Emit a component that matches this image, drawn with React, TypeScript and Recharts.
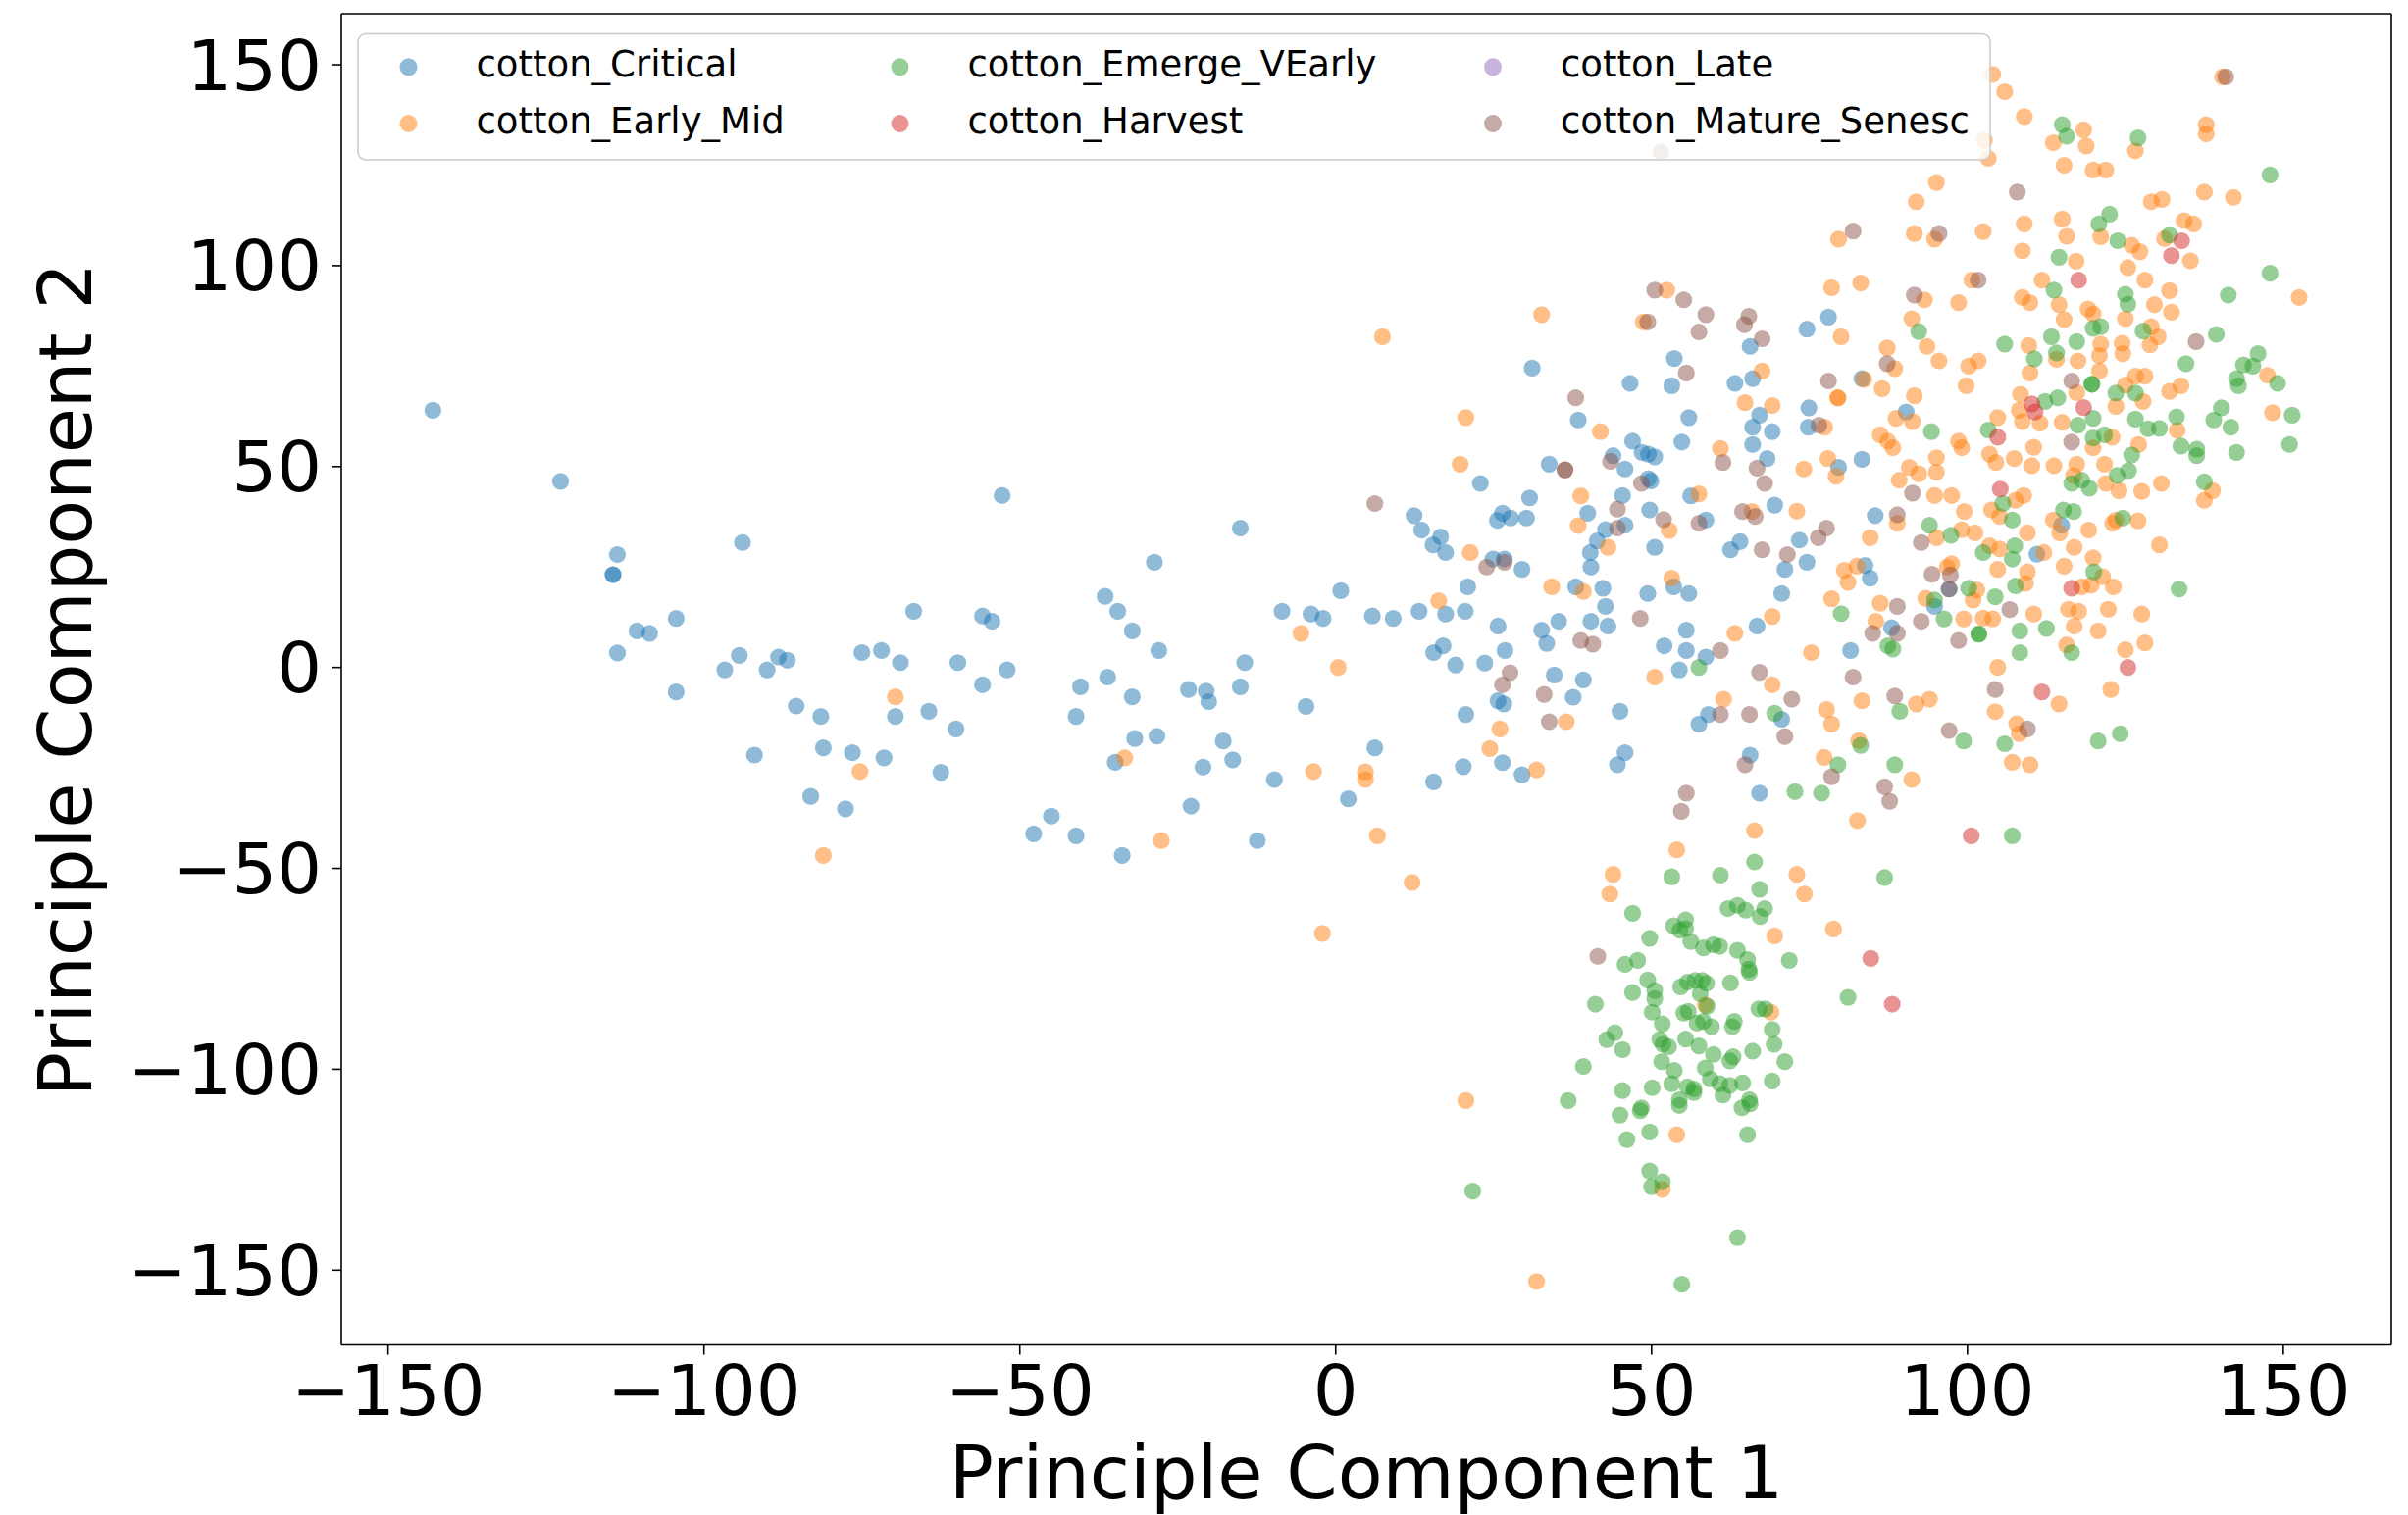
import React from 'react';
import { ScatterChart, Scatter, XAxis, YAxis, ReferenceLine } from 'recharts';

// ── Data ────────────────────────────────────────────────────────────────────

const TICKS = [-150, -100, -50, 0, 50, 100, 150];
const X_DOMAIN: [number, number] = [-157.4, 167.1];
const Y_DOMAIN: [number, number] = [-168.6, 162.7];

const SERIES_NAMES = [
  'cotton_Critical',
  'cotton_Early_Mid',
  'cotton_Emerge_VEarly',
  'cotton_Harvest',
  'cotton_Late',
  'cotton_Mature_Senesc',
];
const SERIES_COLORS = ['#1f77b4', '#ff7f0e', '#2ca02c', '#d62728', '#9467bd', '#8c564b'];

const critical: [number, number][] = [
  [-142.9, 64.0], [-122.7, 46.3], [-113.7, 28.1], [-114.4, 23.1], [-114.4, 23.1], [-104.4, 12.2],
  [-110.6, 9.1], [-108.6, 8.5], [-113.7, 3.6], [-104.4, -6.1], [-93.9, 31.1], [-94.4, 3.0],
  [-96.7, -0.6], [-88.2, 2.6], [-86.8, 1.8], [-90.0, -0.6], [-75.0, 3.7], [-71.9, 4.2],
  [-68.9, 1.2], [-69.7, -12.2], [-85.4, -9.6], [-81.5, -12.2], [-81.1, -20.0], [-76.5, -21.2],
  [-71.5, -22.5], [-92.0, -21.8], [-83.1, -32.1], [-77.6, -35.2],
  [-52.8, 42.8], [-15.1, 34.7], [-28.7, 26.2], [-36.5, 17.7], [-34.5, 14.0], [-32.2, 9.1],
  [-28.0, 4.2], [-66.8, 14.0], [-55.9, 12.8], [-54.4, 11.5], [-59.8, 1.2], [-52.0, -0.6],
  [-55.9, -4.3], [-64.4, -10.9], [-60.1, -15.3], [-62.5, -26.1], [-40.4, -4.8], [-36.1, -2.4],
  [-41.1, -12.2], [-32.2, -7.3], [-23.3, -5.5], [-20.5, -5.9], [-20.1, -8.5], [-15.1, -4.8],
  [-14.4, 1.2], [-8.5, 14.0], [-3.9, 13.3], [-2.0, 12.2], [0.8, 19.1], [5.8, 12.8],
  [9.1, 12.2], [-4.7, -9.7], [-31.8, -17.7], [-28.3, -17.1], [-34.9, -23.6], [-17.8, -18.3],
  [-16.3, -23.0], [-21.0, -24.8], [-9.7, -27.9], [6.2, -20.0], [2.0, -32.7], [-22.9, -34.5],
  [-45.0, -37.0], [-47.8, -41.4], [-41.1, -41.9], [-33.8, -46.8], [-12.4, -43.1],
  [65.6, 79.9], [74.6, 84.2], [78.0, 87.2], [53.6, 76.9], [31.1, 74.5], [46.6, 70.7],
  [53.2, 70.1], [63.2, 70.7], [66.0, 71.9], [83.3, 71.9], [38.4, 61.6], [55.9, 62.2],
  [67.1, 62.8], [66.0, 59.8], [69.1, 58.7], [66.0, 55.5], [74.9, 64.6], [74.8, 59.8],
  [47.0, 56.3], [48.5, 53.5], [49.5, 53.1], [50.5, 52.4], [54.8, 56.1], [68.3, 52.0],
  [79.6, 49.8], [83.3, 51.8], [33.8, 50.6], [43.9, 52.7], [45.8, 49.4], [49.5, 47.0],
  [49.9, 46.4], [22.9, 45.8], [30.7, 42.2], [45.4, 42.8], [56.2, 42.7],
  [12.4, 37.8], [13.6, 34.2], [16.6, 32.5], [15.4, 30.5], [17.4, 28.6], [25.6, 36.6],
  [26.4, 38.4], [27.7, 37.2], [30.2, 37.2], [24.9, 27.0], [26.7, 27.0], [29.5, 24.4],
  [20.9, 20.1], [17.4, 13.3], [20.5, 14.0], [13.2, 14.0], [25.7, 10.3], [17.0, 5.4],
  [15.5, 3.7], [19.0, 0.6], [23.6, 1.1], [26.8, 4.2], [25.7, -8.3], [26.6, -9.1],
  [20.6, -11.7], [20.2, -24.7], [26.4, -23.7], [29.5, -26.7], [15.5, -28.5], [38.0, 20.1],
  [42.3, 19.7], [42.7, 15.2], [43.1, 10.3], [40.4, 11.5], [35.3, 11.5], [32.6, 9.3],
  [33.4, 6.0], [34.6, -1.9], [39.2, -3.1], [37.6, -7.4], [45.0, -10.9], [45.8, -21.2],
  [44.6, -24.2], [39.9, 38.4], [42.7, 34.3], [45.8, 35.4], [41.4, 31.5], [40.3, 28.6],
  [40.4, 25.0], [49.7, 39.2], [50.5, 29.9], [58.6, 36.7], [53.5, 20.1], [55.9, 18.4],
  [49.4, 18.4], [55.5, 9.3], [52.0, 5.4], [55.5, 4.2], [58.6, 2.6], [54.4, -0.6],
  [64.0, 31.3], [62.5, 29.3], [66.7, 10.3], [70.6, 18.4], [71.1, 24.4], [73.4, 31.7],
  [74.6, 26.2], [69.5, 40.4], [81.5, 4.2], [59.0, -11.7], [57.5, -14.1], [70.6, -12.9],
  [65.6, -21.8], [67.1, -31.3],
  [85.4, 37.8], [111.0, 28.2], [84.6, 22.2], [83.8, 25.4], [97.1, 19.5], [94.8, 15.2],
  [88.0, 9.9], [114.9, 35.4], [90.3, 63.6],
];

const earlyMid: [number, number][] = [
  [-69.7, -7.3], [-75.3, -25.9], [-81.1, -46.8], [-5.5, 8.5], [0.4, 0.0], [-33.4, -22.5],
  [-3.5, -25.9], [4.7, -26.0], [4.7, -27.9], [-27.6, -43.1], [6.6, -41.9], [-2.1, -66.2],
  [79.6, 106.6], [78.5, 94.5], [83.1, 95.7], [32.6, 87.8], [7.4, 82.3], [52.4, 93.9],
  [48.7, 86.0], [80.0, 82.3], [67.5, 73.8], [79.5, 67.1], [79.5, 67.1], [83.6, 71.7],
  [20.6, 62.2], [41.9, 58.7], [64.8, 65.9], [69.1, 65.2], [77.4, 59.8], [60.9, 54.5],
  [74.1, 49.4], [77.9, 52.0], [79.2, 47.6], [19.7, 50.6], [38.8, 42.7], [57.5, 43.2],
  [104.0, 147.6], [105.9, 143.3], [102.7, 131.2], [103.3, 126.7], [109.0, 137.1], [140.4, 147.0],
  [113.6, 130.6], [118.4, 133.8], [118.8, 129.8], [126.6, 128.6], [137.8, 135.1], [137.8, 132.8],
  [115.3, 125.0], [119.9, 123.8], [121.9, 123.8], [95.1, 120.7], [91.9, 115.9], [137.5, 118.3],
  [142.1, 117.0], [129.1, 115.9], [130.8, 116.5], [115.0, 111.6], [109.0, 110.4], [91.6, 108.0],
  [94.8, 106.6], [102.5, 108.5], [115.7, 107.3], [121.1, 107.2], [108.7, 103.7], [134.3, 111.2],
  [135.8, 110.4], [131.2, 106.7], [135.3, 101.2], [126.0, 105.1], [127.3, 103.5], [117.2, 101.1],
  [125.4, 99.5], [128.1, 96.4], [132.0, 93.8], [152.5, 92.1], [93.2, 91.5], [98.6, 90.8],
  [100.7, 96.4], [111.8, 96.4], [108.7, 92.1], [109.9, 90.8], [114.5, 90.3], [115.3, 86.6],
  [119.1, 89.2], [119.9, 88.0], [125.0, 86.8], [129.6, 90.3], [132.3, 88.4], [91.2, 86.8],
  [93.6, 79.9], [87.3, 79.5], [88.5, 74.4], [86.5, 69.4], [95.5, 76.3], [100.2, 75.0],
  [101.7, 76.3], [99.8, 70.1], [109.7, 80.1], [114.1, 76.7], [121.1, 80.5], [120.9, 77.6],
  [117.5, 76.3], [124.5, 80.7], [124.6, 78.1], [129.1, 84.8], [130.2, 82.3], [128.9, 80.3],
  [109.9, 73.3], [120.9, 73.8], [117.3, 68.4], [108.4, 68.0], [91.6, 67.6], [125.0, 70.3],
  [126.6, 72.5], [128.1, 72.5], [127.8, 66.2], [123.5, 65.0], [132.0, 68.7], [133.8, 70.1],
  [147.5, 72.7], [108.2, 64.0], [108.7, 61.2], [111.5, 60.8], [104.8, 62.2], [88.7, 62.0],
  [91.3, 61.2], [115.0, 61.0], [133.2, 59.0], [148.3, 63.4], [86.2, 57.9], [87.4, 56.3],
  [88.2, 54.7], [98.6, 56.3], [99.1, 54.7], [110.5, 54.8], [122.9, 57.3], [119.9, 54.7],
  [127.1, 55.5], [95.1, 52.2], [95.1, 48.6], [90.8, 49.8], [92.3, 48.2], [89.2, 46.6],
  [103.5, 53.1], [104.5, 51.0], [107.4, 52.0], [110.2, 50.2], [113.7, 50.2], [117.3, 50.6],
  [121.7, 50.6], [130.7, 45.8], [138.8, 44.0], [137.5, 41.6], [94.8, 42.8], [97.5, 42.8],
  [108.9, 42.8], [107.6, 41.6], [116.8, 47.8], [121.9, 45.8], [124.0, 44.0], [127.6, 43.8],
  [21.3, 28.6], [16.3, 16.6], [26.0, -15.3], [24.4, -20.2], [31.8, -25.5], [12.1, -53.5],
  [34.2, 20.1], [39.2, 18.9], [36.5, -13.5], [38.4, 35.3], [43.1, 29.9], [52.8, 34.1],
  [53.2, 22.2], [50.5, -2.4], [63.2, 8.5], [65.9, 38.8], [73.0, 38.9], [69.1, 12.7],
  [80.5, 24.2], [81.1, 21.2], [82.5, 25.2], [78.5, 17.1], [75.3, 3.7], [69.1, -4.3],
  [61.4, -7.9], [77.7, -10.5], [78.5, -14.1], [83.3, -8.3], [82.8, -18.2], [77.3, -22.4],
  [82.6, -38.1], [66.3, -40.6], [54.0, -45.4], [43.9, -51.5], [43.4, -56.4], [73.0, -51.5],
  [74.2, -56.4], [69.5, -66.8], [78.8, -65.1],
  [88.9, 35.9], [84.6, 32.3], [95.1, 32.3], [99.1, 34.3], [101.2, 33.5], [99.5, 38.8],
  [103.8, 39.2], [105.1, 37.6], [109.5, 33.5], [105.1, 29.5], [103.5, 30.3], [112.1, 28.6],
  [104.8, 24.4], [109.5, 23.8], [109.2, 20.9], [101.5, 19.3], [100.9, 16.8], [96.8, 25.0],
  [97.5, 25.8], [93.4, 17.2], [86.2, 16.0], [85.5, 11.5], [99.4, 12.1], [102.5, 12.3],
  [104.0, 12.1], [110.5, 13.3], [104.8, 0.0], [115.3, 25.2], [116.9, 29.9], [113.6, 36.7],
  [114.6, 33.5], [119.2, 34.2], [123.0, 35.9], [123.5, 36.7], [127.0, 36.5], [130.4, 30.5],
  [119.9, 27.3], [121.4, 22.6], [118.1, 20.1], [119.6, 20.5], [123.1, 20.1], [116.0, 14.5],
  [117.6, 14.0], [122.3, 14.5], [127.6, 13.3], [116.9, 10.3], [120.7, 9.1], [115.7, 5.6],
  [125.0, 4.4], [128.1, 6.1], [122.7, -5.5], [114.5, -9.1], [104.4, -11.0], [91.9, -9.1],
  [94.0, -7.9], [107.8, -14.0], [108.2, -16.5], [107.1, -23.6], [109.9, -24.2], [91.2, -27.9],
  [58.5, -84.0], [68.9, -85.8], [20.6, -107.8], [54.0, -116.3], [51.7, -129.9], [31.8, -152.8],
];

const emergeVEarly: [number, number][] = [
  [115.0, 135.1], [115.7, 132.2], [127.0, 131.8], [147.9, 122.6], [122.5, 112.8], [120.8, 110.4],
  [123.8, 106.2], [132.0, 107.6], [114.5, 102.1], [147.9, 98.1], [141.3, 92.7], [113.7, 93.9],
  [125.0, 92.9], [125.4, 90.4], [119.9, 84.4], [121.1, 84.8], [92.3, 83.6], [105.9, 80.5],
  [113.3, 82.3], [114.1, 78.3], [110.6, 76.8], [117.3, 81.1], [127.8, 83.7], [139.4, 82.9],
  [134.6, 75.6], [146.0, 78.1], [143.7, 75.3], [145.2, 75.0], [142.6, 71.9], [142.9, 70.1],
  [149.1, 70.7], [119.7, 70.5], [119.7, 70.5], [123.5, 68.3], [126.6, 68.3], [114.3, 67.1],
  [112.3, 66.2], [119.9, 62.0], [117.5, 60.3], [126.6, 61.8], [128.6, 59.4], [130.4, 59.5],
  [133.1, 62.4], [140.2, 64.6], [139.0, 61.6], [141.7, 59.8], [151.4, 62.8], [151.0, 55.5],
  [94.3, 58.7], [103.3, 59.1], [119.9, 57.1], [121.7, 57.9], [133.8, 55.1], [136.3, 54.3],
  [136.3, 52.7], [142.6, 53.5], [126.0, 52.9], [125.5, 49.0], [123.7, 47.8], [137.5, 46.2],
  [116.5, 45.8], [118.1, 46.6], [119.3, 44.6], [105.6, 40.8],
  [57.5, 0.0], [80.0, 13.4], [69.5, -11.4], [83.1, -19.4], [79.5, -24.2], [72.7, -30.9],
  [76.9, -31.3], [66.3, -48.4], [53.2, -52.1], [60.9, -51.7], [67.1, -55.2], [62.1, -60.0],
  [63.6, -59.2], [64.9, -60.4], [67.9, -60.0], [67.2, -62.0], [47.0, -61.2], [53.5, -64.3],
  [55.4, -62.8], [55.4, -65.0], [54.5, -65.4], [49.7, -67.4], [56.2, -68.2], [58.2, -69.8],
  [59.8, -69.0], [60.8, -69.4], [63.6, -70.4], [71.8, -72.9], [45.8, -73.9], [47.8, -72.9],
  [65.2, -72.7], [65.4, -75.1],
  [94.0, 35.4], [97.4, 32.9], [107.1, 36.7], [107.5, 30.3], [107.1, 27.0], [102.5, 28.6],
  [107.6, 20.3], [100.2, 19.7], [104.4, 17.6], [94.8, 16.8], [96.3, 12.1], [101.8, 8.3],
  [101.8, 8.3], [108.3, 9.1], [112.5, 9.7], [87.4, 5.4], [88.2, 4.6], [108.3, 3.7],
  [115.2, 39.2], [116.8, 38.8], [124.6, 37.2], [120.0, 23.8], [133.5, 19.5], [116.5, 3.7],
  [89.3, -10.9], [99.4, -18.3], [105.9, -19.0], [120.7, -18.3], [124.2, -16.5], [88.5, -24.2],
  [107.1, -41.9], [86.9, -52.3],
  [49.4, -77.8], [47.0, -80.9], [41.1, -83.8], [50.5, -80.4], [50.5, -82.4], [50.1, -85.8],
  [54.6, -79.5], [55.7, -78.3], [56.9, -77.9], [58.0, -77.9], [58.7, -78.6], [57.7, -81.2],
  [58.8, -84.3], [62.5, -78.5], [65.5, -75.9], [81.1, -82.1], [67.0, -85.0], [68.0, -85.0],
  [55.1, -86.0], [55.8, -85.6], [51.7, -88.7], [57.2, -88.5], [58.2, -88.1], [59.5, -89.4],
  [63.1, -88.1], [62.8, -89.4], [69.1, -90.1], [44.2, -90.9], [42.9, -92.6], [45.4, -95.1],
  [51.3, -92.6], [51.8, -93.8], [52.7, -94.4], [55.4, -92.5], [57.5, -94.2], [59.8, -96.3],
  [69.4, -93.8], [66.0, -95.5], [62.9, -96.9], [62.4, -97.9], [71.1, -98.1], [39.2, -99.3],
  [51.6, -98.1], [53.6, -100.3], [58.5, -99.7], [59.3, -102.4], [60.8, -103.6], [53.2, -103.6],
  [55.7, -104.4], [56.7, -104.9], [56.7, -105.8], [62.4, -104.0], [64.4, -103.4], [61.3, -106.4],
  [69.1, -102.9], [50.1, -104.6], [45.4, -105.3], [36.8, -107.8], [54.4, -107.6], [54.4, -109.0],
  [65.5, -107.6], [65.6, -108.6], [64.3, -109.6], [48.4, -109.6], [48.2, -110.3], [45.0, -111.4],
  [49.7, -115.6], [46.1, -117.5], [65.2, -116.3], [49.7, -125.3], [51.7, -128.0], [50.0, -129.2],
  [21.7, -130.3], [63.6, -141.9], [54.8, -153.5],
];

const harvest: [number, number][] = [
  [133.9, 106.2], [132.3, 102.5], [117.6, 96.4], [110.2, 65.6], [110.7, 63.6], [118.4, 64.7],
  [104.8, 57.3], [105.2, 44.4], [116.5, 19.7], [125.4, 0.0], [111.8, -6.1], [100.6, -41.9],
  [84.7, -72.4], [88.1, -83.8],
];

const late: [number, number][] = [];

const matureSenesc: [number, number][] = [
  [6.2, 40.8], [51.5, 128.3], [81.9, 108.6], [50.5, 93.9], [55.1, 91.5], [49.4, 86.0],
  [58.6, 87.8], [57.5, 83.5], [65.4, 87.4], [64.7, 85.3], [67.5, 81.8], [55.5, 73.3],
  [78.0, 71.3], [38.0, 67.1], [76.5, 60.3], [61.3, 51.0], [66.7, 49.6], [67.9, 45.8],
  [36.3, 49.2], [36.3, 49.2], [43.5, 51.3], [48.4, 45.8],
  [140.9, 147.0], [107.9, 118.3], [95.5, 108.0], [91.6, 92.7], [101.7, 96.4], [87.3, 75.6],
  [136.2, 81.1], [116.5, 71.3], [116.5, 56.1], [91.3, 43.4],
  [26.7, 26.2], [23.9, 25.0], [27.6, -1.3], [26.4, -4.3], [38.8, 6.7], [40.7, 5.8],
  [33.0, -6.7], [33.8, -13.5], [44.6, 39.4], [44.6, 34.7], [51.9, 36.8], [57.5, 35.9],
  [48.2, 12.2], [60.9, 4.2], [64.4, 38.8], [66.4, 37.6], [67.5, 29.3], [71.5, 28.1],
  [76.4, 32.3], [77.7, 34.7], [81.9, -2.4], [67.1, -1.2], [72.2, -7.9], [60.9, -11.7],
  [65.5, -11.7], [71.1, -17.2], [64.8, -24.2], [78.5, -27.2], [55.5, -31.3], [54.7, -35.8],
  [41.5, -71.9],
  [88.9, 38.0], [92.7, 31.1], [94.4, 23.2], [97.3, 23.0], [97.1, 19.5], [88.9, 15.2],
  [85.0, 8.5], [88.9, 8.5], [92.7, 11.5], [106.7, 14.4], [98.6, 6.7], [104.4, -5.5],
  [88.5, -7.1], [97.1, -15.7], [109.5, -15.3], [86.9, -29.7], [87.7, -33.3],
];

const SERIES_POINTS = [critical, earlyMid, emergeVEarly, harvest, late, matureSenesc];

// ── Layout ──────────────────────────────────────────────────────────────────

const W = 2455;
const H = 1545;
const FONT = '"DejaVu Sans", Verdana, sans-serif';
const AXIS = { stroke: '#000', strokeWidth: 1.6 };
const TICK = { fill: '#000', fontSize: 72, fontFamily: FONT };
const DOT_R = 8.6;

const fmt = (v: number) => String(v).replace('-', '\u2212');
const toPts = (a: [number, number][]) => a.map(([x, y]) => ({ x, y }));

const dot = (color: string) => (p: any) =>
  <circle cx={p.cx} cy={p.cy} r={DOT_R} fill={color} fillOpacity={0.5} />;

// legend: 3 columns x 2 rows, filled column-wise like matplotlib
const LEG_COL_X = [416.5, 917.5, 1522];
const LEG_ROW_Y = [68.3, 126];

function Overlay() {
  return (
    <svg width={W} height={H} style={{ position: 'absolute', left: 0, top: 0, pointerEvents: 'none' }}>
      <rect x={365} y={34.5} width={1664} height={128.5} rx={8}
        fill="#fff" fillOpacity={0.8} stroke="#cccccc" strokeWidth={1.6} />
      {SERIES_NAMES.map((name, i) => {
        const cx = LEG_COL_X[Math.floor(i / 2)];
        const cy = LEG_ROW_Y[i % 2];
        return (
          <g key={name}>
            <circle cx={cx} cy={cy} r={9} fill={SERIES_COLORS[i]} fillOpacity={0.5} />
            <text x={cx + 69} y={cy + 10} fontSize={37} fontFamily={FONT} fill="#000">{name}</text>
          </g>
        );
      })}
      <text x={1393} y={1528} textAnchor="middle" fontSize={75} fontFamily={FONT} fill="#000">
        Principle Component 1
      </text>
      <text x={93} y={693} transform="rotate(-90 93 693)" textAnchor="middle" fontSize={75}
        fontFamily={FONT} fill="#000">
        Principle Component 2
      </text>
    </svg>
  );
}

export default function App() {
  return (
    <div style={{ position: 'absolute', left: 0, top: 0, width: W, height: H, background: '#fff' }}>
      <ScatterChart width={W} height={H} margin={{ top: 14, right: 17, bottom: 0, left: 0 }}>
        <XAxis
          dataKey="x" type="number" domain={X_DOMAIN} ticks={TICKS} interval={0}
          allowDataOverflow height={173.5} tickSize={10} tickMargin={10}
          axisLine={AXIS} tickLine={AXIS} tick={TICK} tickFormatter={fmt}
        />
        <YAxis
          dataKey="y" type="number" domain={Y_DOMAIN} ticks={TICKS} interval={0}
          allowDataOverflow width={348} tickSize={10} tickMargin={10}
          axisLine={AXIS} tickLine={AXIS} tick={TICK} tickFormatter={fmt}
        />
        {/* top and right spines */}
        <ReferenceLine y={Y_DOMAIN[1]} stroke="#000" strokeWidth={1.6} ifOverflow="visible" />
        <ReferenceLine x={X_DOMAIN[1]} stroke="#000" strokeWidth={1.6} ifOverflow="visible" />
        {SERIES_NAMES.map((name, i) => (
          <Scatter
            key={name}
            name={name}
            data={toPts(SERIES_POINTS[i])}
            fill={SERIES_COLORS[i]}
            shape={dot(SERIES_COLORS[i])}
            isAnimationActive={false}
          />
        ))}
      </ScatterChart>
      <Overlay />
    </div>
  );
}
